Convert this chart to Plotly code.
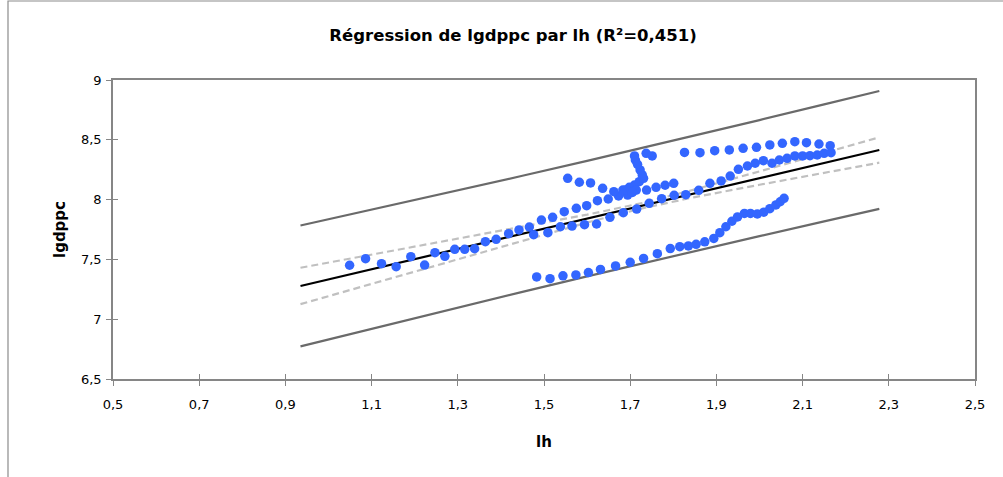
import plotly.graph_objects as go

# observed points (lh, lgdppc)
lh = [1.049, 1.086, 1.123, 1.157, 1.191, 1.223, 1.247, 1.270, 1.293, 1.316, 1.339, 1.364, 1.389,
      1.418, 1.442, 1.466, 1.494, 1.520, 1.547, 1.575, 1.599, 1.624, 1.649, 1.673, 1.694, 1.738, 1.760, 1.781, 1.801,
      1.476, 1.509, 1.538, 1.565, 1.594, 1.622, 1.653, 1.684, 1.715, 1.744, 1.773, 1.802, 1.829, 1.859,
      1.885, 1.911, 1.932, 1.951, 1.972, 1.990, 2.009, 2.029, 2.046, 2.064, 2.082, 2.100, 2.117, 2.134, 2.150, 2.166,
      1.555, 1.582, 1.608, 1.636, 1.662, 1.683, 1.689, 1.698, 1.710, 1.721, 1.731, 1.728, 1.723, 1.717, 1.712, 1.710,
      1.714, 1.705, 1.737, 1.751,
      1.826, 1.862, 1.896, 1.930, 1.962, 1.993, 2.024, 2.053, 2.082, 2.109, 2.138, 2.164,
      1.483, 1.514, 1.544, 1.574, 1.603, 1.631, 1.666, 1.700, 1.731, 1.763, 1.793, 1.815, 1.835, 1.853, 1.873,
      1.894, 1.908, 1.922, 1.936, 1.949, 1.965, 1.979, 1.995, 2.010, 2.024, 2.038, 2.048, 2.057]
lgdppc = [7.451, 7.506, 7.464, 7.439, 7.523, 7.453, 7.556, 7.526, 7.584, 7.584, 7.589, 7.648, 7.668,
          7.715, 7.746, 7.771, 7.829, 7.852, 7.899, 7.927, 7.949, 7.991, 8.005, 8.030, 8.038, 8.080, 8.103, 8.120, 8.136,
          7.707, 7.723, 7.773, 7.779, 7.790, 7.796, 7.852, 7.890, 7.921, 7.969, 8.008, 8.036, 8.041, 8.078,
          8.136, 8.156, 8.197, 8.253, 8.281, 8.304, 8.325, 8.304, 8.331, 8.345, 8.365, 8.365, 8.367, 8.373, 8.387, 8.392,
          8.178, 8.145, 8.139, 8.094, 8.066, 8.080, 8.080, 8.103, 8.122, 8.150, 8.178, 8.206, 8.248, 8.295, 8.331, 8.365,
          8.080, 8.060, 8.387, 8.365,
          8.394, 8.392, 8.409, 8.415, 8.429, 8.437, 8.457, 8.471, 8.484, 8.476, 8.465, 8.451,
          7.353, 7.339, 7.363, 7.370, 7.390, 7.416, 7.445, 7.476, 7.508, 7.548, 7.591, 7.606, 7.613, 7.626, 7.647,
          7.675, 7.723, 7.773, 7.819, 7.855, 7.884, 7.884, 7.880, 7.895, 7.924, 7.955, 7.982, 8.011]

# regression lines
band_x = [0.935, 1.2, 1.45, 1.6, 1.73, 1.85, 2.0, 2.15, 2.278]
fit_y = [7.278, 7.502, 7.714, 7.841, 7.951, 8.053, 8.180, 8.307, 8.415]
conf_hi = [7.430, 7.605, 7.772, 7.874, 7.973, 8.085, 8.236, 8.390, 8.521]
conf_lo = [7.126, 7.399, 7.656, 7.808, 7.929, 8.021, 8.124, 8.224, 8.309]
pred_hi = [7.783, 7.995, 8.199, 8.324, 8.433, 8.536, 8.665, 8.796, 8.908]
pred_lo = [6.773, 7.009, 7.229, 7.358, 7.469, 7.570, 7.695, 7.818, 7.922]

x_ticks = [0.5, 0.7, 0.9, 1.1, 1.3, 1.5, 1.7, 1.9, 2.1, 2.3, 2.5]
x_labels = ["0,5", "0,7", "0,9", "1,1", "1,3", "1,5", "1,7", "1,9", "2,1", "2,3", "2,5"]
y_ticks = [6.5, 7, 7.5, 8, 8.5, 9]
y_labels = ["6,5", "7", "7,5", "8", "8,5", "9"]

FONT = "DejaVu Sans"
AX = "#868686"

fig = go.Figure()
for yy in (pred_hi, pred_lo):
    fig.add_trace(go.Scatter(x=band_x, y=yy, mode="lines", line=dict(color="#6a6a6a", width=2.2),
                             showlegend=False, hoverinfo="skip"))
for yy in (conf_hi, conf_lo):
    fig.add_trace(go.Scatter(x=band_x, y=yy, mode="lines", line=dict(color="#c0c0c0", width=2.2, dash="7px,4px"),
                             showlegend=False, hoverinfo="skip"))
fig.add_trace(go.Scatter(x=band_x, y=fit_y, mode="lines", line=dict(color="#000000", width=2.2),
                         showlegend=False))
fig.add_trace(go.Scatter(x=lh, y=lgdppc, mode="markers",
                         marker=dict(color="#3366FF", size=9.5, line=dict(width=0)), showlegend=False))
# invisible trace on overlay axes (inner half of the crossing ticks)
fig.add_trace(go.Scatter(x=[x_ticks[0]], y=[y_ticks[0]], xaxis="x2", yaxis="y2", mode="markers",
                         marker=dict(opacity=0), showlegend=False, hoverinfo="skip"))

fig.update_layout(
    width=1003, height=477,
    margin=dict(l=113, r=28, t=80, b=98),
    paper_bgcolor="white", plot_bgcolor="white",
    font=dict(family=FONT, size=13, color="#000000"),
    title=dict(text="<b>Régression de lgdppc par lh (R²=0,451)</b>", x=0.5115, xanchor="center",
               y=1 - 35 / 477, yanchor="middle", font=dict(family=FONT, size=16.5, color="#000000")),
    xaxis=dict(range=[0.5, 2.5], tickvals=x_ticks, ticktext=x_labels, showgrid=False, zeroline=False,
               showline=True, linecolor=AX, linewidth=1.5, mirror=True, ticks="outside", ticklen=5,
               tickcolor=AX, tickfont=dict(size=13, family=FONT), ticklabelstandoff=8,
               title=dict(text="<b>lh</b>", font=dict(size=15, family=FONT), standoff=25)),
    yaxis=dict(range=[6.5, 9], tickvals=y_ticks, ticktext=y_labels, showgrid=False, zeroline=False,
               showline=True, linecolor=AX, linewidth=1.5, mirror=True, ticks="outside", ticklen=5,
               tickcolor=AX, tickfont=dict(size=13, family=FONT), ticklabelstandoff=2,
               title=dict(text="<b>lgdppc</b>", font=dict(size=15, family=FONT), standoff=12)),
    xaxis2=dict(range=[0.5, 2.5], tickvals=x_ticks, showticklabels=False, overlaying="x", anchor="y2",
                side="bottom", showgrid=False, zeroline=False, showline=False, ticks="inside",
                ticklen=5, tickcolor=AX),
    yaxis2=dict(range=[6.5, 9], tickvals=y_ticks, showticklabels=False, overlaying="y", anchor="x2",
                side="left", showgrid=False, zeroline=False, showline=False, ticks="inside",
                ticklen=5, tickcolor=AX),
    shapes=[dict(type="rect", xref="paper", yref="paper", x0=(8 - 113) / 862, x1=1.2,
                 y0=-0.5, y1=(379 - 1.0) / 299, line=dict(color="#8c8c8c", width=1.2), layer="below")],
)

fig.write_html("out.html", config={"displayModeBar": False},
               post_script="document.body.style.margin='0';document.body.style.overflow='hidden';")
